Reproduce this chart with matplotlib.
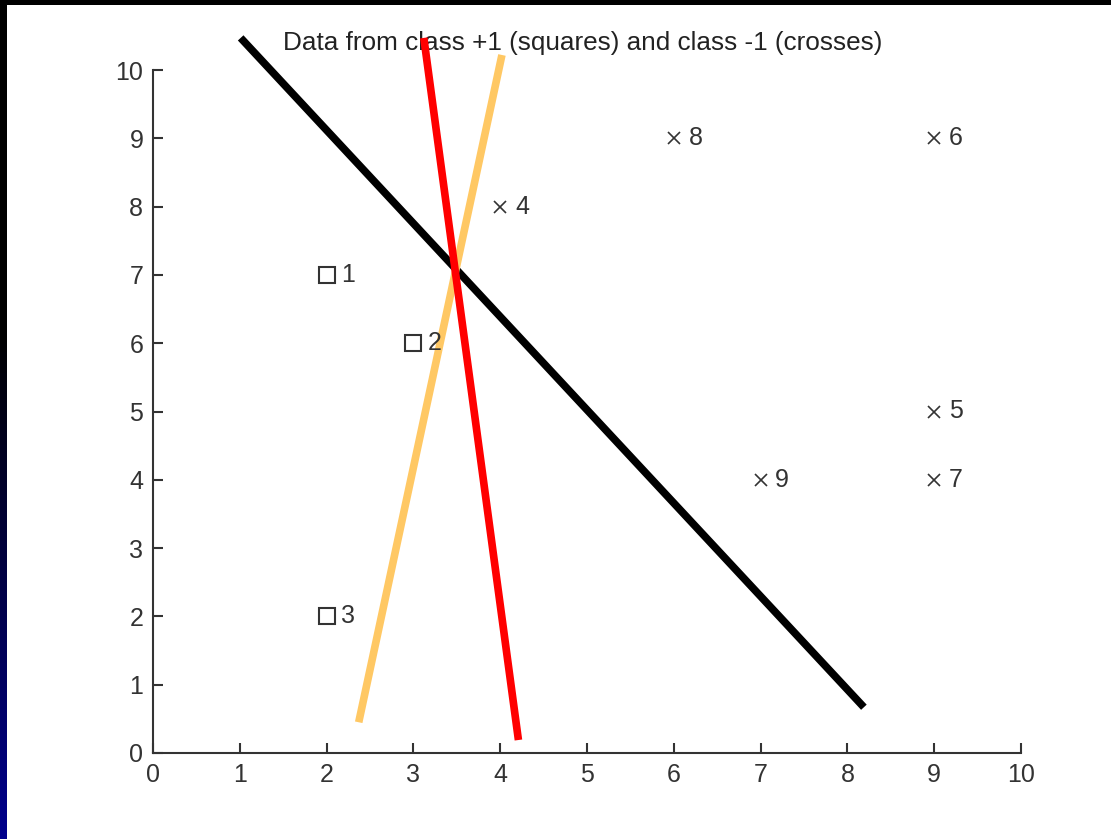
import matplotlib
matplotlib.use('Agg')
import matplotlib.pyplot as plt
import numpy as np

plt.rcParams['font.family'] = ['Liberation Sans', 'DejaVu Sans']

# data points
sq_x = [2, 3, 2]
sq_y = [7, 6, 2]
sq_lab = ['1', '2', '3']
cr_x = [4, 9, 9, 9, 6, 7]
cr_y = [8, 5, 9, 4, 9, 4]
cr_lab = ['4', '5', '6', '7', '8', '9']

# separating lines (end points)
black_x = [1.01, 8.19]
black_y = [10.47, 0.67]
red_x = [3.12, 4.21]
red_y = [10.47, 0.19]
orange_x = [4.02, 2.37]
orange_y = [10.22, 0.45]

fig = plt.figure(figsize=(11.11, 8.39), dpi=100)
fig.patch.set_facecolor('white')

# slide frame: black bar on top, black-to-blue bar on the left
W, H = 1111, 839
top = fig.add_axes([0, 1 - 5 / H, 1, 5 / H])
top.axis('off')
top.add_patch(plt.Rectangle((0, 0), 1, 1, color='black', transform=top.transAxes))
left = fig.add_axes([0, 0, 7 / W, 1])
t = np.linspace(0, 1, 200)
blue = np.clip((t - 0.4) / 0.6, 0, 1) * 0.55
grad = np.zeros((200, 1, 3))
grad[:, 0, 2] = blue
left.imshow(grad, aspect='auto', extent=[0, 1, 1, 0])
left.axis('off')

ax = fig.add_axes([153 / W, 1 - 753 / H, (1021 - 153) / W, (753 - 70) / H])
ax.set_xlim(0, 10)
ax.set_ylim(0, 10)
ax.set_xticks(range(11))
ax.set_yticks(range(11))
for s in ['top', 'right']:
    ax.spines[s].set_visible(False)
for s in ['left', 'bottom']:
    ax.spines[s].set_color('#333333')
    ax.spines[s].set_linewidth(1.5)
ax.tick_params(direction='in', length=7, width=1.5, color='#333333',
               labelsize=18, labelcolor='#333333', pad=7)

ax.plot(sq_x, sq_y, 's', mfc='none', mec='#333333', ms=12, mew=1.5, clip_on=False)
ax.plot(cr_x, cr_y, 'x', color='#333333', ms=8, mew=1.2, clip_on=False)
for x, y, s in zip(sq_x, sq_y, sq_lab):
    ax.text(x + 0.17, y, s, va='center', ha='left', fontsize=18, color='#333333')
for x, y, s in zip(cr_x, cr_y, cr_lab):
    ax.text(x + 0.17, y, s, va='center', ha='left', fontsize=18, color='#333333')

ax.plot(black_x, black_y, color='black', lw=5.5, clip_on=False, solid_capstyle='butt')
ax.plot(orange_x, orange_y, color='#FFC864', lw=5.5, clip_on=False, solid_capstyle='butt')
ax.plot(red_x, red_y, color='red', lw=5.5, clip_on=False, solid_capstyle='butt')

ax.text(4.95, 10.4, 'Data from class +1 (squares) and class -1 (crosses)',
        ha='center', va='center', fontsize=18.8, color='#222222', zorder=0)

fig.savefig('out.png', dpi=100)
